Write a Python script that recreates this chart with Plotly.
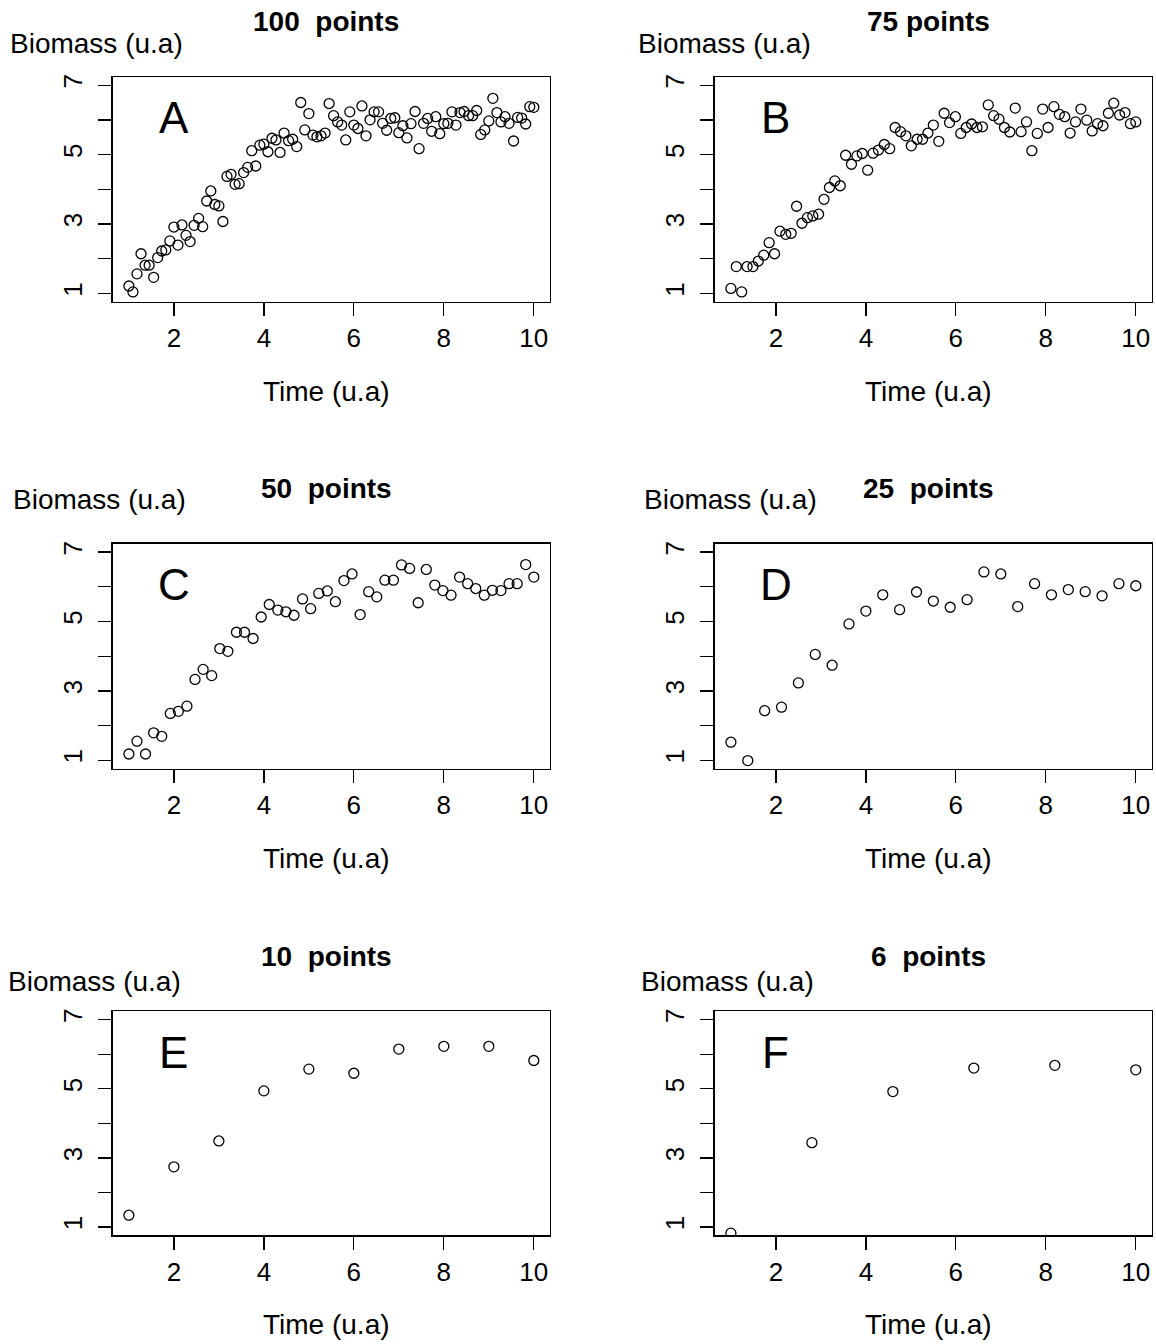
import plotly.graph_objects as go

# ---------------- data ----------------
time_100 = [1.00, 1.09, 1.18, 1.27, 1.36, 1.45, 1.55, 1.64, 1.73, 1.82, 1.91,
            2.00, 2.09, 2.18, 2.27, 2.36, 2.45, 2.55, 2.64, 2.73, 2.82, 2.91,
            3.00, 3.09, 3.18, 3.27, 3.36, 3.45, 3.55, 3.64, 3.73, 3.82, 3.91,
            4.00, 4.09, 4.18, 4.27, 4.36, 4.45, 4.55, 4.64, 4.73, 4.82, 4.91,
            5.00, 5.09, 5.18, 5.27, 5.36, 5.45, 5.55, 5.64, 5.73, 5.82, 5.91,
            6.00, 6.09, 6.18, 6.27, 6.36, 6.45, 6.55, 6.64, 6.73, 6.82, 6.91,
            7.00, 7.09, 7.18, 7.27, 7.36, 7.45, 7.55, 7.64, 7.73, 7.82, 7.91,
            8.00, 8.09, 8.18, 8.27, 8.36, 8.45, 8.55, 8.64, 8.73, 8.82, 8.91,
            9.00, 9.09, 9.18, 9.27, 9.36, 9.45, 9.55, 9.64, 9.73, 9.82, 9.91,
            10.00]
biomass_100 = [1.21, 1.04, 1.56, 2.14, 1.81, 1.81, 1.46, 2.03, 2.22, 2.25,
               2.51, 2.91, 2.39, 2.97, 2.67, 2.49, 2.96, 3.16, 2.92, 3.66,
               3.95, 3.56, 3.52, 3.07, 4.37, 4.43, 4.14, 4.16, 4.48, 4.63,
               5.11, 4.67, 5.27, 5.30, 5.08, 5.47, 5.42, 5.06, 5.62, 5.40,
               5.44, 5.23, 6.50, 5.71, 6.18, 5.56, 5.51, 5.54, 5.62, 6.47,
               6.12, 5.94, 5.85, 5.42, 6.23, 5.85, 5.75, 6.40, 5.54, 6.00,
               6.23, 6.23, 5.90, 5.70, 6.04, 6.06, 5.63, 5.83, 5.48, 5.89,
               6.24, 5.17, 5.90, 6.04, 5.67, 6.09, 5.60, 5.89, 5.90, 6.23,
               5.85, 6.21, 6.24, 6.12, 6.12, 6.27, 5.58, 5.71, 5.97, 6.62,
               6.21, 5.94, 6.09, 5.90, 5.39, 6.07, 6.05, 5.88, 6.38, 6.36]

time_75 = [1.00, 1.12, 1.24, 1.36, 1.49, 1.61, 1.73, 1.85, 1.97, 2.09,
           2.22, 2.34, 2.46, 2.58, 2.70, 2.82, 2.95, 3.07, 3.19, 3.31,
           3.43, 3.55, 3.68, 3.80, 3.92, 4.04, 4.16, 4.28, 4.41, 4.53,
           4.65, 4.77, 4.89, 5.01, 5.14, 5.26, 5.38, 5.50, 5.62, 5.74,
           5.86, 5.99, 6.11, 6.23, 6.35, 6.47, 6.59, 6.72, 6.84, 6.96,
           7.08, 7.20, 7.32, 7.45, 7.57, 7.69, 7.81, 7.93, 8.05, 8.18,
           8.30, 8.42, 8.54, 8.66, 8.78, 8.91, 9.03, 9.15, 9.27, 9.39,
           9.51, 9.64, 9.76, 9.88, 10.00]
biomass_75 = [1.14, 1.77, 1.04, 1.77, 1.77, 1.93, 2.10, 2.46, 2.14, 2.79,
              2.70, 2.73, 3.51, 3.02, 3.18, 3.23, 3.28, 3.71, 4.05, 4.24,
              4.10, 4.98, 4.72, 4.96, 5.03, 4.55, 5.04, 5.13, 5.29, 5.17,
              5.78, 5.66, 5.54, 5.25, 5.44, 5.44, 5.62, 5.85, 5.38, 6.19,
              5.92, 6.09, 5.61, 5.78, 5.88, 5.78, 5.80, 6.43, 6.12, 6.02,
              5.78, 5.65, 6.34, 5.66, 5.94, 5.11, 5.61, 6.31, 5.78, 6.38,
              6.16, 6.09, 5.62, 5.94, 6.31, 5.99, 5.68, 5.89, 5.83, 6.19,
              6.48, 6.14, 6.21, 5.89, 5.94]

time_50 = [1.00, 1.18, 1.37, 1.55, 1.73, 1.92, 2.10, 2.29, 2.47, 2.65,
           2.84, 3.02, 3.20, 3.39, 3.57, 3.76, 3.94, 4.12, 4.31, 4.49,
           4.67, 4.86, 5.04, 5.22, 5.41, 5.59, 5.78, 5.96, 6.14, 6.33,
           6.51, 6.69, 6.88, 7.06, 7.24, 7.43, 7.61, 7.80, 7.98, 8.16,
           8.35, 8.53, 8.71, 8.90, 9.08, 9.27, 9.45, 9.63, 9.82, 10.00]
biomass_50 = [1.18, 1.55, 1.18, 1.79, 1.69, 2.35, 2.41, 2.56, 3.33, 3.62,
              3.44, 4.22, 4.14, 4.69, 4.69, 4.51, 5.13, 5.49, 5.33, 5.28,
              5.18, 5.65, 5.37, 5.81, 5.88, 5.57, 6.18, 6.37, 5.20, 5.86,
              5.71, 6.19, 6.19, 6.63, 6.53, 5.54, 6.50, 6.05, 5.89, 5.76,
              6.28, 6.09, 5.95, 5.76, 5.90, 5.89, 6.09, 6.09, 6.64, 6.28]

time_25 = [1.000, 1.375, 1.750, 2.125, 2.500, 2.875, 3.250, 3.625, 4.000,
           4.375, 4.750, 5.125, 5.500, 5.875, 6.250, 6.625, 7.000, 7.375,
           7.750, 8.125, 8.500, 8.875, 9.250, 9.625, 10.000]
biomass_25 = [1.52, 0.99, 2.43, 2.53, 3.23, 4.05, 3.74, 4.93, 5.30, 5.77,
              5.34, 5.85, 5.59, 5.41, 5.63, 6.43, 6.37, 5.43, 6.09, 5.77,
              5.92, 5.86, 5.74, 6.09, 6.03]

time_10 = [1, 2, 3, 4, 5, 6, 7, 8, 9, 10]
biomass_10 = [1.34, 2.74, 3.49, 4.94, 5.57, 5.45, 6.15, 6.23, 6.23, 5.82]

time_6 = [1.0, 2.8, 4.6, 6.4, 8.2, 10.0]
biomass_6 = [0.82, 3.44, 4.92, 5.60, 5.68, 5.55]

titles = ["100  points", "75 points", "50  points", "25  points", "10  points", "6  points"]
letters = ["A", "B", "C", "D", "E", "F"]
x_ticks = [2, 4, 6, 8, 10]
y_ticks = [1, 2, 3, 4, 5, 6, 7]
y_tick_text = ["1", "", "3", "", "5", "", "7"]
x_label = "Time (u.a)"
y_label = "Biomass (u.a)"

series = [(time_100, biomass_100), (time_75, biomass_75), (time_50, biomass_50),
          (time_25, biomass_25), (time_10, biomass_10), (time_6, biomass_6)]

# ---------------- layout geometry (pixels) ----------------
W, H = 1156, 1344
col_left = [112.7, 714.7]
col_right = [550.0, 1152.0]
row_top = [74.0, 542.0, 1010.7]
row_bottom = [299.3, 767.3, 1235.0]
ylab_pos = [(96, 44), (724, 44), (100, 500.5), (730, 500.5), (94, 984), (727, 984)]
TXT_DY = -3  # annotation box centre vs glyph centre

FONT = "Liberation Sans, Arial, Helvetica, sans-serif"


def px(xp):
    return xp / W


def py(yp):
    return 1 - (yp + TXT_DY) / H


def pyd(yp):
    return 1 - yp / H


fig = go.Figure()
layout = dict(
    width=W, height=H,
    margin=dict(l=0, r=0, t=0, b=0),
    paper_bgcolor="white", plot_bgcolor="white",
    showlegend=False,
    font=dict(family=FONT, color="black", size=26),
)
annotations = []

for i, (xs, ys) in enumerate(series):
    r, c = divmod(i, 2)
    n = "" if i == 0 else str(i + 1)
    xa, ya = "x" + n, "y" + n
    fig.add_trace(go.Scatter(
        x=xs, y=ys, mode="markers", xaxis=xa, yaxis=ya,
        marker=dict(symbol="circle-open", size=10, color="black",
                    line=dict(width=1.3, color="black")),
        cliponaxis=True, hoverinfo="skip"))
    common = dict(showgrid=False, zeroline=False, showline=True, mirror=True,
                  linecolor="black", linewidth=1.3, ticks="outside", ticklen=13,
                  tickwidth=1.3, tickcolor="black",
                  tickfont=dict(family=FONT, size=26, color="black"))
    layout["xaxis" + n] = dict(
        common, domain=[px(col_left[c]), px(col_right[c])], anchor=ya,
        range=[0.64, 10.36], tickmode="array", tickvals=x_ticks,
        ticktext=[str(v) for v in x_ticks], ticklabelstandoff=0)
    layout["yaxis" + n] = dict(
        common, domain=[pyd(row_bottom[r]), pyd(row_top[r])], anchor=xa,
        range=[0.76, 7.24], tickmode="array", tickvals=y_ticks,
        ticktext=y_tick_text, tickangle=-90, ticklabelstandoff=6)

    cx = (col_left[c] + col_right[c]) / 2 - 5
    # title
    annotations.append(dict(text="<b>" + titles[i] + "</b>", x=px(cx), y=py(row_top[r] - 52.3),
                            xref="paper", yref="paper", showarrow=False,
                            xanchor="center", yanchor="middle",
                            font=dict(family=FONT, size=28, color="black")))
    # x label
    annotations.append(dict(text=x_label, x=px(cx), y=py(row_bottom[r] + 92.7),
                            xref="paper", yref="paper", showarrow=False,
                            xanchor="center", yanchor="middle",
                            font=dict(family=FONT, size=28, color="black")))
    # y label (horizontal, above the plot)
    lx, ly = ylab_pos[i]
    annotations.append(dict(text=y_label, x=px(lx), y=py(ly),
                            xref="paper", yref="paper", showarrow=False,
                            xanchor="center", yanchor="middle",
                            font=dict(family=FONT, size=28, color="black")))
    # panel letter
    annotations.append(dict(text=letters[i], x=2, y=6.06, xref=xa, yref=ya,
                            showarrow=False, xanchor="center", yanchor="middle",
                            font=dict(family=FONT, size=44, color="black")))

layout["annotations"] = annotations
fig.update_layout(**layout)
fig.write_html("out.html",
               config={"displayModeBar": False, "staticPlot": True},
               post_script="document.body.style.margin='0';document.body.style.overflow='hidden';")
